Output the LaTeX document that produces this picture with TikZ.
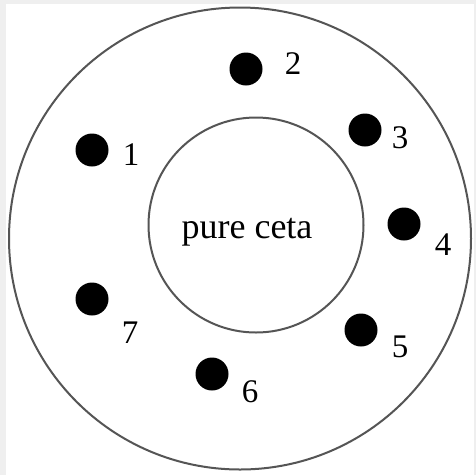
\documentclass[tikz,border=0pt]{standalone}
\usepackage{fontspec}
\setmainfont{Liberation Serif}
\definecolor{bggray}{HTML}{EFEFEF}
\definecolor{ringgray}{HTML}{555555}
\begin{document}
\begin{tikzpicture}[x=1pt,y=-1pt,
  ring/.style={draw=ringgray,line width=2pt},
  dot/.style={circle,fill=black,inner sep=0pt,minimum size=33pt},
  num/.style={font=\fontsize{33}{33}\selectfont,inner sep=0pt,anchor=center}]
\useasboundingbox (0,0) rectangle (476,475);
\fill[bggray] (0,0) rectangle (476,475);
\fill[white] (6,4) rectangle (474,475);
\draw[ring] (240,238.5) circle (231);
\draw[ring] (256,225) circle (107.5);
\node[font=\fontsize{36}{36}\selectfont,inner sep=0pt] (core) at (247,232) {pure ceta};
\node[dot] (d1) at (92,150) {};
\node[dot] (d2) at (246,69) {};
\node[dot] (d3) at (365,130) {};
\node[dot] (d4) at (404,224) {};
\node[dot] (d5) at (361,330) {};
\node[dot] (d6) at (212,374) {};
\node[dot] (d7) at (92,299) {};
\node[num] (l1) at (131,155) {1};
\node[num] (l2) at (293,64) {2};
\node[num] (l3) at (400,138) {3};
\node[num] (l4) at (443,245) {4};
\node[num] (l5) at (400,347) {5};
\node[num] (l6) at (250,392) {6};
\node[num] (l7) at (130,333) {7};
\end{tikzpicture}
\end{document}
